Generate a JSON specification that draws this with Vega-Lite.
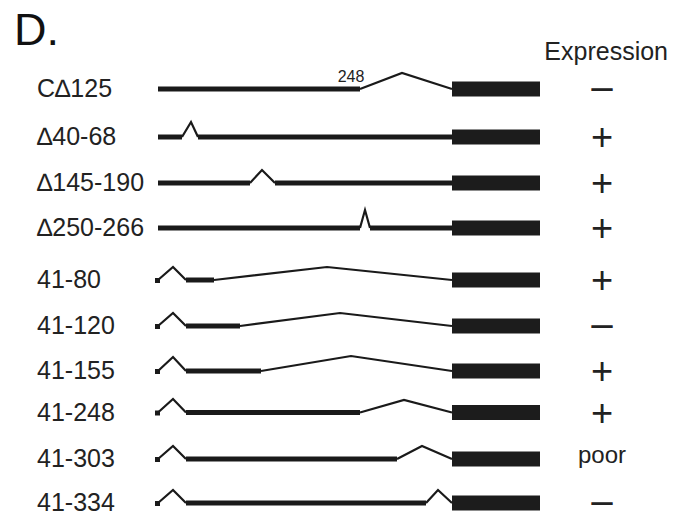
{
  "$schema": "https://vega.github.io/schema/vega-lite/v6.json",
  "width": 676,
  "height": 516,
  "padding": 0,
  "autosize": {"type": "none"},
  "background": "white",
  "config": {"view": {"stroke": null}},
  "datasets": {
    "constructs": [
      {"label": "C∆125", "y": 89, "expr": "−"},
      {"label": "∆40-68", "y": 137, "expr": "+"},
      {"label": "∆145-190", "y": 183, "expr": "+"},
      {"label": "∆250-266", "y": 228, "expr": "+"},
      {"label": "41-80", "y": 280, "expr": "+"},
      {"label": "41-120", "y": 326, "expr": "−"},
      {"label": "41-155", "y": 371, "expr": "+"},
      {"label": "41-248", "y": 412.5, "expr": "+"},
      {"label": "41-303", "y": 459, "expr": "poor"},
      {"label": "41-334", "y": 503, "expr": "−"}
    ],
    "thick": [
      {"x1": 158, "x2": 360, "y": 89},
      {"x1": 158, "x2": 182, "y": 137},
      {"x1": 198, "x2": 452, "y": 137},
      {"x1": 158, "x2": 250, "y": 183},
      {"x1": 275, "x2": 452, "y": 183},
      {"x1": 158, "x2": 360, "y": 228},
      {"x1": 370, "x2": 452, "y": 228},
      {"x1": 155, "x2": 160, "y": 280.5},
      {"x1": 186, "x2": 214, "y": 280},
      {"x1": 155, "x2": 160, "y": 326.5},
      {"x1": 186, "x2": 240, "y": 326},
      {"x1": 155, "x2": 160, "y": 371.5},
      {"x1": 186, "x2": 261, "y": 371},
      {"x1": 155, "x2": 160, "y": 413},
      {"x1": 186, "x2": 360, "y": 412.5},
      {"x1": 155, "x2": 160, "y": 459.5},
      {"x1": 186, "x2": 397, "y": 459},
      {"x1": 155, "x2": 160, "y": 503.5},
      {"x1": 186, "x2": 426, "y": 503}
    ],
    "thin": [
      {"seg": "a1", "ord": 1, "x": 360, "y": 89},
      {"seg": "a1", "ord": 2, "x": 402, "y": 73},
      {"seg": "a1", "ord": 3, "x": 452, "y": 89},
      {"seg": "a2", "ord": 1, "x": 182, "y": 137},
      {"seg": "a2", "ord": 2, "x": 191, "y": 122},
      {"seg": "a2", "ord": 3, "x": 198, "y": 137},
      {"seg": "a3", "ord": 1, "x": 250, "y": 183},
      {"seg": "a3", "ord": 2, "x": 262, "y": 170},
      {"seg": "a3", "ord": 3, "x": 275, "y": 183},
      {"seg": "a4", "ord": 1, "x": 360, "y": 228},
      {"seg": "a4", "ord": 2, "x": 365, "y": 210},
      {"seg": "a4", "ord": 3, "x": 370, "y": 228},
      {"seg": "c5", "ord": 1, "x": 158, "y": 280},
      {"seg": "c5", "ord": 2, "x": 173, "y": 267},
      {"seg": "c5", "ord": 3, "x": 186, "y": 280},
      {"seg": "l5", "ord": 1, "x": 214, "y": 280},
      {"seg": "l5", "ord": 2, "x": 327, "y": 267},
      {"seg": "l5", "ord": 3, "x": 452, "y": 280},
      {"seg": "c6", "ord": 1, "x": 158, "y": 326},
      {"seg": "c6", "ord": 2, "x": 173, "y": 313},
      {"seg": "c6", "ord": 3, "x": 186, "y": 326},
      {"seg": "l6", "ord": 1, "x": 240, "y": 326},
      {"seg": "l6", "ord": 2, "x": 340, "y": 313},
      {"seg": "l6", "ord": 3, "x": 452, "y": 326},
      {"seg": "c7", "ord": 1, "x": 158, "y": 371},
      {"seg": "c7", "ord": 2, "x": 173, "y": 357},
      {"seg": "c7", "ord": 3, "x": 186, "y": 371},
      {"seg": "l7", "ord": 1, "x": 261, "y": 371},
      {"seg": "l7", "ord": 2, "x": 351, "y": 356},
      {"seg": "l7", "ord": 3, "x": 452, "y": 371},
      {"seg": "c8", "ord": 1, "x": 158, "y": 412.5},
      {"seg": "c8", "ord": 2, "x": 173, "y": 399},
      {"seg": "c8", "ord": 3, "x": 186, "y": 412.5},
      {"seg": "l8", "ord": 1, "x": 360, "y": 412.5},
      {"seg": "l8", "ord": 2, "x": 404, "y": 400},
      {"seg": "l8", "ord": 3, "x": 452, "y": 412.5},
      {"seg": "c9", "ord": 1, "x": 158, "y": 459},
      {"seg": "c9", "ord": 2, "x": 173, "y": 446},
      {"seg": "c9", "ord": 3, "x": 186, "y": 459},
      {"seg": "l9", "ord": 1, "x": 397, "y": 459},
      {"seg": "l9", "ord": 2, "x": 422, "y": 446},
      {"seg": "l9", "ord": 3, "x": 452, "y": 459},
      {"seg": "c10", "ord": 1, "x": 158, "y": 503},
      {"seg": "c10", "ord": 2, "x": 173, "y": 490},
      {"seg": "c10", "ord": 3, "x": 186, "y": 503},
      {"seg": "l10", "ord": 1, "x": 426, "y": 503},
      {"seg": "l10", "ord": 2, "x": 438, "y": 490},
      {"seg": "l10", "ord": 3, "x": 452, "y": 503}
    ],
    "notes": [
      {"text": "248", "x": 351, "y": 77}
    ]
  },
  "layer": [
    {
      "data": {"name": "thin"},
      "mark": {"type": "line", "stroke": "#1a1a1a", "strokeWidth": 2.2, "strokeJoin": "miter"},
      "encoding": {
        "x": {"field": "x", "type": "quantitative", "scale": {"domain": [0, 676], "nice": false, "zero": false}, "axis": null},
        "y": {"field": "y", "type": "quantitative", "scale": {"domain": [0, 516], "nice": false, "zero": false, "reverse": true}, "axis": null},
        "detail": {"field": "seg"},
        "order": {"field": "ord"}
      }
    },
    {
      "data": {"name": "thick"},
      "mark": {"type": "rule", "stroke": "#1a1a1a", "strokeWidth": 5, "strokeCap": "butt"},
      "encoding": {
        "x": {"field": "x1", "type": "quantitative"},
        "x2": {"field": "x2"},
        "y": {"field": "y", "type": "quantitative"}
      }
    },
    {
      "data": {"name": "constructs"},
      "mark": {"type": "rule", "stroke": "#1c1c1c", "strokeWidth": 15, "strokeCap": "butt"},
      "encoding": {
        "x": {"datum": 452, "type": "quantitative"},
        "x2": {"datum": 540},
        "y": {"field": "y", "type": "quantitative"}
      }
    },
    {
      "data": {"name": "constructs"},
      "mark": {"type": "text", "align": "left", "baseline": "middle", "font": "Liberation Sans", "fontSize": 25, "fill": "#222222"},
      "encoding": {
        "x": {"datum": 37, "type": "quantitative"},
        "y": {"field": "y", "type": "quantitative"},
        "text": {"field": "label"}
      }
    },
    {
      "data": {"name": "constructs"},
      "transform": [{"filter": "datum.expr === '+'"}],
      "mark": {"type": "text", "align": "center", "baseline": "middle", "font": "Liberation Sans", "fontSize": 38, "dy": 2, "fill": "#222222"},
      "encoding": {
        "x": {"datum": 602, "type": "quantitative"},
        "y": {"field": "y", "type": "quantitative"},
        "text": {"field": "expr"}
      }
    },
    {
      "data": {"name": "constructs"},
      "transform": [{"filter": "datum.expr === '−'"}],
      "mark": {"type": "text", "align": "center", "baseline": "middle", "font": "Liberation Sans", "fontSize": 20, "dy": 0, "fill": "#222222", "stroke": "#222222", "strokeWidth": 1.3},
      "encoding": {
        "x": {"datum": 602, "type": "quantitative"},
        "y": {"field": "y", "type": "quantitative"},
        "text": {"value": "—"}
      }
    },
    {
      "data": {"name": "constructs"},
      "transform": [{"filter": "datum.expr === 'poor'"}],
      "mark": {"type": "text", "align": "center", "baseline": "middle", "font": "Liberation Sans", "fontSize": 24, "dy": -3, "fill": "#222222"},
      "encoding": {
        "x": {"datum": 602, "type": "quantitative"},
        "y": {"field": "y", "type": "quantitative"},
        "text": {"field": "expr"}
      }
    },
    {
      "data": {"name": "notes"},
      "mark": {"type": "text", "align": "center", "baseline": "middle", "font": "Liberation Sans", "fontSize": 16, "fill": "#222222"},
      "encoding": {
        "x": {"field": "x", "type": "quantitative"},
        "y": {"field": "y", "type": "quantitative"},
        "text": {"field": "text"}
      }
    },
    {
      "data": {"values": [{"text": "Expression", "x": 668, "y": 60}]},
      "mark": {"type": "text", "align": "right", "baseline": "alphabetic", "font": "Liberation Sans", "fontSize": 25, "fill": "#222222"},
      "encoding": {
        "x": {"field": "x", "type": "quantitative"},
        "y": {"field": "y", "type": "quantitative"},
        "text": {"field": "text"}
      }
    },
    {
      "data": {"values": [{"text": "D.", "x": 14, "y": 45}]},
      "mark": {"type": "text", "align": "left", "baseline": "alphabetic", "font": "Liberation Sans", "fontSize": 45, "fill": "#111111"},
      "encoding": {
        "x": {"field": "x", "type": "quantitative"},
        "y": {"field": "y", "type": "quantitative"},
        "text": {"field": "text"}
      }
    }
  ]
}
